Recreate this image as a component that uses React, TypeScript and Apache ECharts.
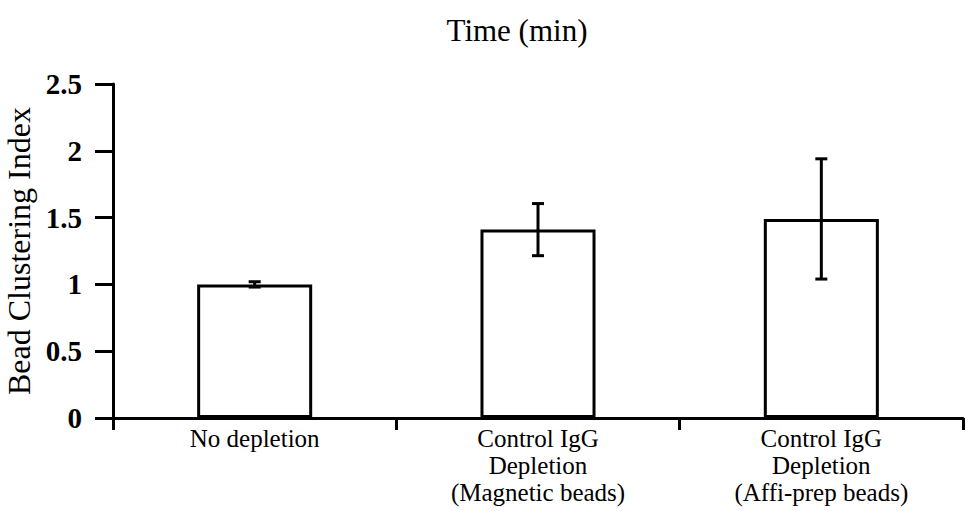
import React, { useEffect, useRef } from "react";
import * as echarts from "echarts";

const categories = [
  "No depletion",
  "Control IgG\nDepletion\n(Magnetic beads)",
  "Control IgG\nDepletion\n(Affi-prep beads)",
];
const means = [1.0, 1.41, 1.49];
const errors = [0.02, 0.195, 0.45];
const yTicks = [0, 0.5, 1, 1.5, 2, 2.5];

const SERIF = "'Liberation Serif', 'Times New Roman', serif";

export default function App() {
  const ref = useRef<HTMLDivElement>(null);
  useEffect(() => {
    if (!ref.current) return;
    const chart = echarts.init(ref.current, null, { renderer: "svg" });
    const errData = means.map((m, i) => [i, m - errors[i], m + errors[i]]);
    chart.setOption({
      animation: false,
      backgroundColor: "#ffffff",
      title: {
        text: "Time (min)",
        left: 512,
        textAlign: "center",
        top: 10,
        textStyle: { fontFamily: SERIF, fontSize: 31, fontWeight: "normal", color: "#000" },
      },
      grid: { left: 113, right: 3, top: 84, bottom: 93, containLabel: false, outerBoundsMode: "none" },
      xAxis: {
        type: "category",
        data: categories,
        boundaryGap: true,
        axisLine: { lineStyle: { color: "#000", width: 3 } },
        axisTick: { show: true, length: 12, lineStyle: { color: "#000", width: 3 } },
        axisLabel: {
          color: "#000",
          fontFamily: SERIF,
          fontSize: 25,
          lineHeight: 27,
          margin: 7,
          interval: 0,
        },
      },
      yAxis: {
        type: "value",
        min: 0,
        max: 2.5,
        interval: 0.5,
        name: "Bead Clustering Index",
        nameLocation: "middle",
        nameGap: 75,
        nameTextStyle: { fontFamily: SERIF, fontSize: 32, color: "#000" },
        splitLine: { show: false },
        axisLine: { show: true, lineStyle: { color: "#000", width: 3 } },
        axisTick: { show: true, length: 18, lineStyle: { color: "#000", width: 3 } },
        axisLabel: {
          color: "#000",
          fontFamily: SERIF,
          fontSize: 29,
          fontWeight: "bold",
          margin: 31,
          formatter: (v: number) => (yTicks.includes(v) ? String(v) : ""),
        },
      },
      series: [
        {
          type: "bar",
          data: means,
          barWidth: "40.6%",
          itemStyle: { color: "#ffffff", borderColor: "#000", borderWidth: 3 },
          z: 2,
        },
        {
          type: "custom",
          data: errData,
          z: 3,
          renderItem: (params: any, api: any) => {
            const x = api.value(0);
            const lo = api.coord([x, api.value(1)]);
            const hi = api.coord([x, api.value(2)]);
            const cx = lo[0];
            const hw = 6;
            const style = { stroke: "#000", lineWidth: 3 };
            return {
              type: "group",
              children: [
                { type: "line", shape: { x1: cx, y1: lo[1], x2: cx, y2: hi[1] }, style },
                { type: "line", shape: { x1: cx - hw, y1: lo[1], x2: cx + hw, y2: lo[1] }, style },
                { type: "line", shape: { x1: cx - hw, y1: hi[1], x2: cx + hw, y2: hi[1] }, style },
              ],
            };
          },
        },
      ],
    });
    return () => chart.dispose();
  }, []);
  return <div ref={ref} style={{ width: 966, height: 511, position: "absolute", left: 0, top: 0 }} />;
}
